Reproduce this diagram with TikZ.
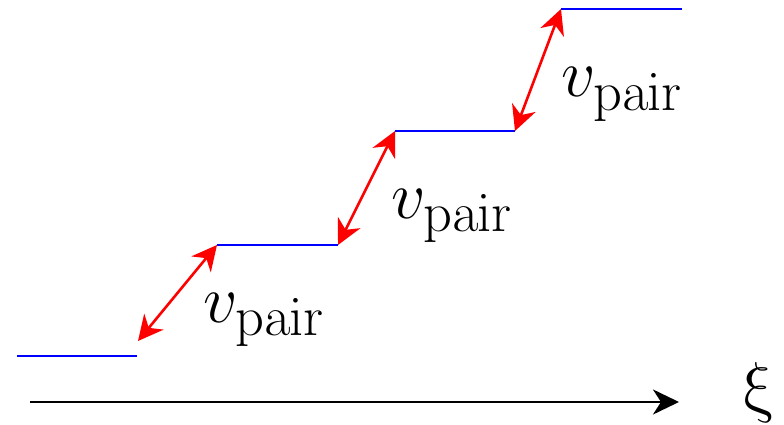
\documentclass[tikz,border=0pt]{standalone}
\usetikzlibrary{arrows.meta}
\newcommand{\bigtxt}[1]{\scalebox{2.72}{\Huge #1}}
\begin{document}
\begin{tikzpicture}[x=1pt,y=-1pt,
  level/.style={draw=blue,line width=2pt},
  gap/.style={draw=red,line width=2.6pt,{Stealth[length=25pt,width=25pt,inset=8pt]}-{Stealth[length=25pt,width=25pt,inset=8pt]}},
  axis/.style={draw=black,line width=2.6pt,-{Stealth[length=26pt,width=25pt,inset=8pt]}},
  lab/.style={inner sep=0pt,anchor=base west}]
\useasboundingbox (0,0) rectangle (784,425);
% level end points
\coordinate (l1a) at (17,356);  \coordinate (l1b) at (137,356);
\coordinate (l2a) at (217,245); \coordinate (l2b) at (338,245);
\coordinate (l3a) at (395,131); \coordinate (l3b) at (515,131);
\coordinate (l4a) at (561,9);   \coordinate (l4b) at (682,9);
\coordinate (g1) at (138,341);
\draw[level] (l1a) -- (l1b);
\draw[level] (l2a) -- (l2b);
\draw[level] (l3a) -- (l3b);
\draw[level] (l4a) -- (l4b);
\draw[gap] (g1) -- (l2a);
\draw[gap] (l2b) -- (l3a);
\draw[gap] (l3b) -- (l4a);
\node[lab] (v1) at (203,322) {\bigtxt{$v_{\mathrm{pair}}$}};
\node[lab] (v2) at (391,218) {\bigtxt{$v_{\mathrm{pair}}$}};
\node[lab] (v3) at (561,97) {\bigtxt{$v_{\mathrm{pair}}$}};
\coordinate (ax0) at (30,402);
\coordinate (ax1) at (679,402);
\draw[axis] (ax0) -- (ax1);
\begin{scope}[shift={(745,409)},xslant=-0.18]
\node[lab,transform shape] (xi) at (0,0) {\bigtxt{$\xi$}};
\end{scope}
\end{tikzpicture}
\end{document}
